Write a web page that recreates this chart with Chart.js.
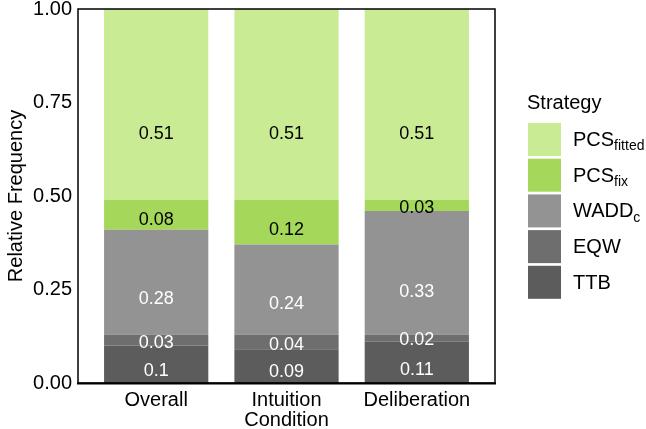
<!DOCTYPE html>
<html>
<head>
<meta charset="utf-8">
<script src="https://cdn.jsdelivr.net/npm/chart.js@4"></script>
<style>
  html, body { margin: 0; padding: 0; background: #fff; }
  #wrap { width: 646px; height: 429px; }
</style>
</head>
<body>
<div id="wrap"><canvas id="myChart" width="646" height="429"></canvas></div>
<script>
'use strict';

// categories (x axis)
let conditions = [['Overall'], ['Intuition', 'Condition'], ['Deliberation']];

// stacked from the bottom up
let ttb       = [0.10, 0.09, 0.11];
let eqw       = [0.03, 0.04, 0.02];
let waddc     = [0.28, 0.24, 0.33];
let pcsFix    = [0.08, 0.12, 0.03];
let pcsFitted = [0.51, 0.51, 0.51];

let valueLabels = [
  ['0.1', '0.09', '0.11'],
  ['0.03', '0.04', '0.02'],
  ['0.28', '0.24', '0.33'],
  ['0.08', '0.12', '0.03'],
  ['0.51', '0.51', '0.51']
];

let seriesNames = ['TTB', 'EQW', 'WADD', 'PCS', 'PCS'];
let seriesSubs  = ['', '', 'c', 'fix', 'fitted'];
let seriesColors = ['#5c5c5c', '#6e6e6e', '#939393', '#a5d75a', '#c9eb94'];
let textColors   = ['#ffffff', '#ffffff', '#ffffff', '#000000', '#000000'];

let yTicks = [0, 0.25, 0.5, 0.75, 1];

const FONT = '"Liberation Sans", Arial, Helvetica, sans-serif';

let allSeries = [ttb, eqw, waddc, pcsFix, pcsFitted];

let datasets = [];
for (let s = 0; s < allSeries.length; s++) {
  datasets.push({
    label: seriesNames[s] + seriesSubs[s],
    data: allSeries[s].map((v, i) => ({ x: i, y: v })),
    backgroundColor: seriesColors[s],
    borderWidth: 0,
    barPercentage: 0.8,
    categoryPercentage: 1.0
  });
}

// numbers inside each segment, a bit below the middle like the original
const segmentLabels = {
  id: 'segmentLabels',
  afterDatasetsDraw(chart) {
    let ctx = chart.ctx;
    ctx.save();
    ctx.font = '18px ' + FONT;
    ctx.textAlign = 'center';
    ctx.textBaseline = 'middle';
    chart.data.datasets.forEach((ds, s) => {
      let meta = chart.getDatasetMeta(s);
      meta.data.forEach((bar, i) => {
        ctx.fillStyle = textColors[s];
        let y = bar.base - 0.35 * (bar.base - bar.y);
        ctx.fillText(valueLabels[s][i], bar.x, y + 1);
      });
    });
    ctx.restore();
  }
};

// panel frame
const frame = {
  id: 'frame',
  afterDraw(chart) {
    let a = chart.chartArea;
    let ctx = chart.ctx;
    ctx.save();
    ctx.strokeStyle = '#000';
    ctx.lineWidth = 1.5;
    ctx.strokeRect(a.left, a.top, a.right - a.left, a.bottom - a.top);
    ctx.lineWidth = 2;
    ctx.beginPath();
    ctx.moveTo(a.left - 1, a.bottom + 0.5);
    ctx.lineTo(a.right + 1, a.bottom + 0.5);
    ctx.stroke();
    ctx.restore();
  }
};

// legend with subscripts, top entry = top of stack
const subLegend = {
  id: 'subLegend',
  afterDraw(chart) {
    let ctx = chart.ctx;
    ctx.save();
    ctx.fillStyle = '#000';
    ctx.textBaseline = 'middle';
    ctx.textAlign = 'left';
    ctx.font = '20px ' + FONT;
    ctx.fillText('Strategy', 527, 103);
    let x0 = 528, y0 = 123, box = 33, step = 35.7;
    let n = seriesNames.length;
    for (let k = 0; k < n; k++) {
      let s = n - 1 - k;
      let y = y0 + k * step;
      ctx.fillStyle = seriesColors[s];
      ctx.fillRect(x0, y, box, box);
      ctx.fillStyle = '#000';
      ctx.font = '20px ' + FONT;
      let cy = y + box / 2 + 1;
      ctx.fillText(seriesNames[s], 573, cy);
      if (seriesSubs[s]) {
        let w = ctx.measureText(seriesNames[s]).width;
        ctx.font = '14px ' + FONT;
        ctx.fillText(seriesSubs[s], 573 + w, cy + 6);
      }
    }
    ctx.restore();
  }
};

let ctx = document.getElementById('myChart').getContext('2d');
let myChart = new Chart(ctx, {
  type: 'bar',
  data: { datasets: datasets },
  options: {
    responsive: false,
    animation: false,
    events: [],
    layout: { padding: { left: 0, right: 151, top: 9, bottom: 0 } },
    plugins: { legend: { display: false }, tooltip: { enabled: false } },
    scales: {
      x: {
        type: 'linear',
        offset: false,
        stacked: true,
        min: -0.6,
        max: 2.6,
        grid: { display: false, drawTicks: false, offset: false },
        border: { display: false },
        afterBuildTicks: s => { s.ticks = conditions.map((c, i) => ({ value: i })); },
        afterFit: s => { s.height = 46; s.paddingLeft = 0; s.paddingRight = 0; },
        ticks: {
          color: '#000',
          padding: 7,
          maxRotation: 0,
          autoSkip: false,
          font: { family: FONT, size: 20, lineHeight: 1.0 },
          callback: v => conditions[v] || ''
        }
      },
      y: {
        stacked: true,
        min: 0,
        max: 1,
        grid: { display: false, drawTicks: false },
        border: { display: false },
        afterBuildTicks: s => { s.ticks = yTicks.map(v => ({ value: v })); },
        afterFit: s => { s.width = 78; s.paddingTop = 0; s.paddingBottom = 0; },
        title: {
          display: true,
          text: 'Relative Frequency',
          color: '#000',
          padding: { top: 4, bottom: 0 },
          font: { family: FONT, size: 20 }
        },
        ticks: {
          color: '#000',
          padding: 6,
          font: { family: FONT, size: 20 },
          callback: v => v.toFixed(2)
        }
      }
    }
  },
  plugins: [segmentLabels, frame, subLegend]
});
</script>
</body>
</html>
